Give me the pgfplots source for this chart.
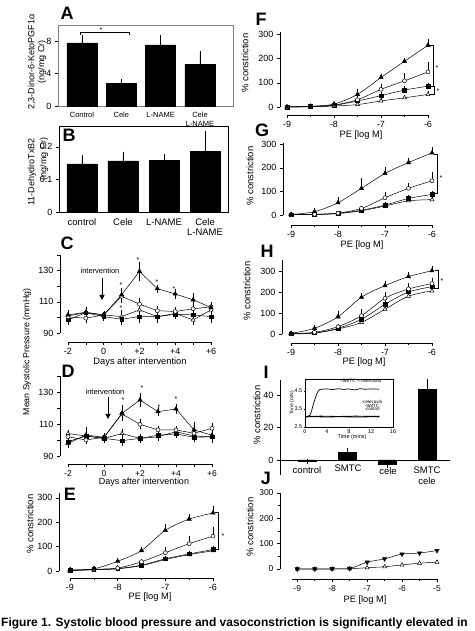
\documentclass[border=0pt]{standalone}
\usepackage{fontspec}
\setmainfont{Liberation Sans}
\usepackage{pgfplots}
\pgfplotsset{compat=1.18}
\usetikzlibrary{arrows.meta}
\pgfplotsset{
  base/.style={scale only axis, clip=false,
    tick label style={font=\fontsize{9}{10}\selectfont},
    /pgf/number format/assume math mode=true,
    axis line style={line width=0.5pt,-},
    tick style={black, line width=0.5pt},
    major tick length=3pt, minor tick length=2pt, tick align=outside},
  prism/.style 2 args={base, axis x line*=bottom, axis y line*=left,
    x axis line style={yshift=-#2}, xtick style={yshift=-#2}, xticklabel style={yshift=-#2},
    y axis line style={xshift=-#1}, ytick style={xshift=-#1}, yticklabel style={xshift=-#1}},
  s1/.style={black, line width=0.5pt, mark=triangle*, mark size=2.5pt, mark options={solid, fill=black}},
  s2/.style={black, line width=0.5pt, mark=*, mark size=2pt, mark options={solid, fill=white}},
  s3/.style={black, line width=0.5pt, mark=square*, mark size=1.8pt, mark options={solid, fill=black}},
  s4/.style={black, line width=0.5pt, mark=triangle*, mark size=2.3pt, mark options={solid, fill=white}},
  eb/.style={/pgfplots/error bars/y dir=#1, /pgfplots/error bars/y explicit,
    /pgfplots/error bars/error bar style={line width=0.5pt, black},
    /pgfplots/error bars/error mark options={black, line width=0.5pt, mark size=1.8pt}},
  dr/.style={xmin=-9, xmax=-6, xtick={-9,-8,-7,-6}, xticklabels={-9,-8,-7,-6},
    minor xtick={-8.5,-7.5,-6.5}, ytick={0,100,200,300}, yticklabels={0,100,200,300}},
}
\begin{document}
\begin{tikzpicture}
\useasboundingbox (0,0) rectangle (474pt,631pt);

% ---------- A ----------
\begin{axis}[base, at={(58pt,525pt)}, anchor=south west, width=175pt, height=81pt,
  xmin=-0.61, xmax=3.84, ymin=0, ymax=10, ytick={0,4,8}, yticklabels={0,4,8}, ytick pos=left,
  xtick={0,1,2,3}, xticklabels={Control,Cele,L-NAME,{Cele\\L-NAME}},
  xticklabel style={align=center, font=\fontsize{7.5}{8.5}\selectfont},
  xtick style={draw=none}, axis line style={gray}, ybar, bar width=30pt]
\addplot[fill=black, draw=black, eb=plus] coordinates {(0,7.8)+-(0,0.7) (1,2.8)+-(0,0.25) (2,7.55)+-(0,1.05) (3,5.1)+-(0,1.5)};
\end{axis}

% ---------- B ----------
\begin{axis}[base, at={(59pt,419pt)}, anchor=south west, width=169pt, height=86pt,
  xmin=-0.56, xmax=3.56, ymin=0, ymax=0.264, ytick={0,0.1,0.2}, yticklabels={0,0.1,0.2}, ytick pos=left,
  xtick={0,1,2,3}, xticklabels={control,Cele,L-NAME,{Cele\\L-NAME}},
  xticklabel style={align=center, font=\fontsize{9.5}{10.5}\selectfont},
  xtick style={draw=none}, ybar, bar width=30pt]
\addplot[fill=black, draw=black, eb=plus] coordinates {(0,0.148)+-(0,0.022) (1,0.157)+-(0,0.023) (2,0.158)+-(0,0.015) (3,0.186)+-(0,0.056)};
\end{axis}

% ---------- C ----------
\begin{axis}[prism={8pt}{9pt}, at={(68pt,298pt)}, anchor=south west, width=143pt, height=78pt,
  xmin=-2, xmax=6, ymin=90, ymax=140, xtick={-2,...,6}, xticklabels={-2,,0,,+2,,+4,,+6},
  ytick={90,100,...,140}, yticklabels={90,,110,,130,}]
\addplot[s4, eb=both] coordinates {(-2,101)+-(0,2) (-1,103)+-(0,2) (0,101.6)+-(0,1.5) (1,100.5)+-(0,3) (2,104.8)+-(0,3) (3,100.5)+-(0,3) (4,102.5)+-(0,2) (5,98.4)+-(0,2) (6,104.8)+-(0,2)};
\addplot[s3, eb=both] coordinates {(-2,98.4)+-(0,2) (-1,103)+-(0,2) (0,100.5)+-(0,1.5) (1,98.8)+-(0,2.5) (2,100.5)+-(0,3) (3,100.5)+-(0,2) (4,102)+-(0,2) (5,101.6)+-(0,3) (6,100.5)+-(0,3)};
\addplot[s2, eb=both] coordinates {(-2,100.3)+-(0,2) (-1,99.5)+-(0,2) (0,101.6)+-(0,1.5) (1,113.5)+-(0,3) (2,108.5)+-(0,2.5) (3,104.3)+-(0,2) (4,103.8)+-(0,2) (5,105.5)+-(0,2) (6,106.8)+-(0,2)};
\addplot[s1, eb=both] coordinates {(-2,101.6)+-(0,2) (-1,103.3)+-(0,2) (0,101.6)+-(0,1.5) (1,114.5)+-(0,3) (2,129.5)+-(0,5) (3,118.4)+-(0,1.5) (4,115)+-(0,2) (5,111.3)+-(0,3) (6,106.3)+-(0,2)};
\end{axis}

% ---------- D ----------
\begin{axis}[prism={8pt}{8pt}, at={(68pt,175pt)}, anchor=south west, width=144pt, height=80pt,
  xmin=-2, xmax=6, ymin=90, ymax=140, xtick={-2,...,6}, xticklabels={-2,,0,,+2,,+4,,+6},
  ytick={90,100,...,140}, yticklabels={90,,110,,130,},
  xticklabel style={font=\fontsize{8.5}{9}\selectfont}]
\addplot[s4, eb=both] coordinates {(-2,104)+-(0,1) (-1,102.5)+-(0,2) (0,101)+-(0,1.5) (1,104)+-(0,1.5) (2,101)+-(0,1.5) (3,102)+-(0,1.5) (4,105.2)+-(0,2) (5,102.5)+-(0,2) (6,102)+-(0,3)};
\addplot[s3, eb=both] coordinates {(-2,99)+-(0,2) (-1,102.5)+-(0,2) (0,101)+-(0,1.5) (1,99.6)+-(0,2) (2,101)+-(0,1.5) (3,103)+-(0,1.5) (4,103.8)+-(0,1.5) (5,101.7)+-(0,2) (6,102)+-(0,2)};
\addplot[s2, eb=both] coordinates {(-2,102)+-(0,1.5) (-1,100)+-(0,1.5) (0,101.7)+-(0,1.5) (1,116.3)+-(0,2) (2,109.8)+-(0,2) (3,106.3)+-(0,1.5) (4,106.3)+-(0,1.5) (5,104.2)+-(0,2) (6,107.3)+-(0,2)};
\addplot[s1, eb=both] coordinates {(-2,97.9)+-(0,2) (-1,103.1)+-(0,4) (0,101.7)+-(0,1.5) (1,116.7)+-(0,4) (2,125)+-(0,3) (3,117.7)+-(0,1.5) (4,119.4)+-(0,2) (5,106.3)+-(0,4) (6,103)+-(0,3)};
\end{axis}

% ---------- E ----------
\begin{axis}[prism={11pt}{7pt}, dr, at={(70pt,60pt)}, anchor=south west, width=143pt, height=78pt,
  ymin=0, ymax=320]
\addplot[s4, smooth, eb=plus] coordinates {(-9,2)+-(0,1) (-8.5,5)+-(0,1) (-8,9)+-(0,2) (-7.5,22)+-(0,3) (-7,47)+-(0,4) (-6.5,67)+-(0,5) (-6,83)+-(0,6)};
\addplot[s3, smooth, eb=plus] coordinates {(-9,2)+-(0,1) (-8.5,6)+-(0,2) (-8,10)+-(0,3) (-7.5,24)+-(0,4) (-7,50)+-(0,5) (-6.5,70)+-(0,6) (-6,88)+-(0,8)};
\addplot[s2, smooth, eb=plus] coordinates {(-9,3)+-(0,2) (-8.5,7)+-(0,3) (-8,12)+-(0,4) (-7.5,38)+-(0,5) (-7,75)+-(0,17) (-6.5,112)+-(0,25) (-6,143)+-(0,30)};
\addplot[s1, smooth, eb=plus] coordinates {(-9,4)+-(0,3) (-8.5,9)+-(0,4) (-8,40)+-(0,6) (-7.5,84)+-(0,8) (-7,167)+-(0,20) (-6.5,213)+-(0,15) (-6,238)+-(0,20)};
\end{axis}

% ---------- F ----------
\begin{axis}[prism={7pt}{8pt}, dr, at={(287pt,524pt)}, anchor=south west, width=141pt, height=75pt,
  ymin=0, ymax=310]
\addplot[s4, smooth, eb=plus] coordinates {(-9,0)+-(0,0) (-8.5,1)+-(0,1) (-8,4)+-(0,1) (-7.5,10)+-(0,3) (-7,25)+-(0,4) (-6.5,38)+-(0,5) (-6,52)+-(0,6)};
\addplot[s3, smooth, eb=plus] coordinates {(-9,0)+-(0,1) (-8.5,2)+-(0,1) (-8,7)+-(0,2) (-7.5,25)+-(0,8) (-7,47)+-(0,6) (-6.5,70)+-(0,10) (-6,86)+-(0,5)};
\addplot[s2, smooth, eb=plus] coordinates {(-9,0)+-(0,1) (-8.5,2)+-(0,1) (-8,8)+-(0,2) (-7.5,30)+-(0,6) (-7,73)+-(0,15) (-6.5,108)+-(0,25) (-6,145)+-(0,35)};
\addplot[s1, smooth, eb=plus] coordinates {(-9,0)+-(0,1) (-8.5,3)+-(0,2) (-8,12)+-(0,3) (-7.5,52)+-(0,15) (-7,122)+-(0,6) (-6.5,189)+-(0,6) (-6,255)+-(0,20)};
\end{axis}

% ---------- G ----------
\begin{axis}[prism={8pt}{10pt}, dr, at={(291pt,416pt)}, anchor=south west, width=141pt, height=72pt,
  ymin=0, ymax=305]
\addplot[s4, smooth, eb=plus] coordinates {(-9,1)+-(0,1) (-8.5,2)+-(0,1) (-8,6)+-(0,1) (-7.5,18)+-(0,2) (-7,38)+-(0,3) (-6.5,60)+-(0,4) (-6,65)+-(0,5)};
\addplot[s3, smooth, eb=plus] coordinates {(-9,1)+-(0,1) (-8.5,2)+-(0,1) (-8,7)+-(0,1) (-7.5,20)+-(0,3) (-7,42)+-(0,5) (-6.5,70)+-(0,6) (-6,87)+-(0,7)};
\addplot[s2, smooth, eb=plus] coordinates {(-9,1)+-(0,1) (-8.5,3)+-(0,1) (-8,8)+-(0,2) (-7.5,28)+-(0,4) (-7,73)+-(0,15) (-6.5,113)+-(0,15) (-6,145)+-(0,30)};
\addplot[s1, smooth, eb=plus] coordinates {(-9,2)+-(0,1) (-8.5,14)+-(0,10) (-8,52)+-(0,15) (-7.5,113)+-(0,38) (-7,176)+-(0,18) (-6.5,222)+-(0,12) (-6,263)+-(0,18)};
\end{axis}

% ---------- H ----------
\begin{axis}[prism={9pt}{9pt}, dr, at={(291pt,297pt)}, anchor=south west, width=141pt, height=74pt,
  ymin=0, ymax=352]
\addplot[s4, smooth, eb=plus] coordinates {(-9,0)+-(0,1) (-8.5,4)+-(0,3) (-8,24)+-(0,5) (-7.5,55)+-(0,8) (-7,118)+-(0,15) (-6.5,180)+-(0,25) (-6,205)+-(0,28)};
\addplot[s3, smooth, eb=plus] coordinates {(-9,1)+-(0,1) (-8.5,5)+-(0,3) (-8,27)+-(0,5) (-7.5,70)+-(0,10) (-7,141)+-(0,20) (-6.5,200)+-(0,20) (-6,225)+-(0,20)};
\addplot[s2, smooth, eb=plus] coordinates {(-9,2)+-(0,2) (-8.5,8)+-(0,3) (-8,35)+-(0,6) (-7.5,87)+-(0,25) (-7,170)+-(0,20) (-6.5,214)+-(0,18) (-6,240)+-(0,18)};
\addplot[s1, smooth, eb=plus] coordinates {(-9,3)+-(0,2) (-8.5,27)+-(0,8) (-8,82)+-(0,20) (-7.5,175)+-(0,10) (-7,230)+-(0,12) (-6.5,273)+-(0,12) (-6,301)+-(0,14)};
\end{axis}

% ---------- I ----------
\begin{axis}[base, at={(280pt,156.4pt)}, anchor=south west, width=170pt, height=94.25pt,
  xmin=-0.675, xmax=3.575, ymin=-9, ymax=49, axis y line*=left, axis x line*=middle,
  xtick=\empty, ytick={0,20,40}, yticklabels={0,20,40}, ybar, bar width=18pt]
\addplot[fill=black, draw=black, eb=both] coordinates {(0,-1)+-(0,0.4) (1,4.5)+-(0,1.8) (2,-2.5)+-(0,1.5) (3,43.5)+-(0,5)};
\end{axis}

% inset
\begin{axis}[base, at={(305pt,204pt)}, anchor=south west, width=88pt, height=48pt,
  xmin=0, xmax=16, ymin=2.5, ymax=5.17, xtick={0,4,8,12,16}, xticklabels={0,4,8,12,16},
  ytick={2.5,3.5,4.5}, yticklabels={2.5,3.5,4.5},
  tick label style={font=\fontsize{5.5}{6}\selectfont},
  major tick length=1.5pt, xtick pos=bottom, ytick pos=left,
  xticklabel style={inner sep=1pt}, yticklabel style={inner sep=1pt}]
\addplot[black, line width=1.1pt] coordinates {(0,3.07) (2,3.08) (4,3.06) (6,3.08) (8,3.07) (10,3.06) (12,3.08) (13.5,3.07)};
\addplot[black, line width=0.6pt] coordinates {(0,3.1) (3,3.11) (6,3.09) (9,3.11) (13.5,3.1)};
\addplot[black, line width=0.7pt] coordinates {(0,3.07) (0.5,3.08) (0.9,3.15) (1.2,3.4) (1.5,3.75) (1.8,4.05) (2.1,4.3) (2.4,4.5) (2.7,4.58) (3,4.6) (4,4.62) (5,4.58) (6,4.63) (7,4.59) (8,4.62) (9,4.56) (10,4.63) (11,4.6) (12,4.62) (13,4.61) (13.5,4.6)};
\end{axis}

% ---------- J ----------
\begin{axis}[prism={12pt}{10pt}, at={(292pt,62pt)}, anchor=south west, width=145pt, height=76pt,
  xmin=-9.15, xmax=-5, ymin=0, ymax=300, xtick={-9,-8,-7,-6,-5}, xticklabels={-9,-8,-7,-6,-5},
  minor xtick={-8.5,-7.5,-6.5,-5.5}, ytick={0,100,200,300}, yticklabels={0,100,200,300},
  minor ytick={50,150,250}, tick label style={font=\fontsize{8.5}{9.5}\selectfont}]
\addplot[s4, smooth] coordinates {(-9,0) (-8.5,0) (-8,0) (-7.5,1) (-7,5) (-6.5,9) (-6,16) (-5.5,23) (-5,27)};
\addplot[black, line width=0.5pt, smooth, mark=triangle*, mark size=2.5pt, mark options={solid, fill=black, rotate=180}] coordinates {(-9,0) (-8.5,0) (-8,1) (-7.5,2) (-7,27) (-6.5,40) (-6,59) (-5.5,63) (-5,73)};
\end{axis}

\begin{scope}[x=1pt, y=1pt]
% panel letters
\foreach \l/\px/\py in {A/67/618, B/69/496, C/67/388, D/68/260, E/70/137, F/261/612, G/262/501, H/267/380, I/266/259, J/266/153}
  \node[font=\bfseries\fontsize{18}{18}\selectfont, inner sep=0] at (\px,\py) {\l};
% y labels
\node[rotate=90, align=center, font=\fontsize{9}{10}\selectfont] at (37,569) {2,3-Dinor-6-KetoPGF1α\\(ng/mg Cr)};
\node[rotate=90, font=\fontsize{9}{10}\selectfont] at (32,459) {11-DehydroTxB2};
\node[rotate=90, font=\fontsize{9}{10}\selectfont] at (44,472) {(ng/mg Cr)};
\node[rotate=90, font=\fontsize{8.8}{10}\selectfont] at (27,279) {Mean Systolic Pressure (mmHg)};
\foreach \px/\py in {30/107, 245/568, 250/455, 247/340, 257/216, 250/104}
  \node[rotate=90, font=\fontsize{9.5}{10}\selectfont] at (\px,\py) {\% constriction};
% x labels
\node[font=\fontsize{9.3}{10}\selectfont] at (140,269) {Days after intervention};
\node[font=\fontsize{9}{10}\selectfont] at (144,149) {Days after intervention};
\foreach \px/\py in {150/34, 361/496, 362/386, 364/269, 365/31}
  \node[font=\fontsize{9.3}{10}\selectfont] at (\px,\py) {PE [log M]};
% intervention arrows
\node[font=\fontsize{7.5}{8}\selectfont] at (100,360) {intervention};
\draw[line width=1pt, -{Triangle[length=5pt,width=5pt]}] (102,353) -- (102,331);
\node[font=\fontsize{7.5}{8}\selectfont] at (105,239) {intervention};
\draw[line width=1pt, -{Triangle[length=5pt,width=5pt]}] (108,234) -- (108,212);
% asterisks
\foreach \px/\py in {121/346, 138/371, 157/349, 174/342, 121/323, 123/231, 142/243, 159/224, 176/232, 101/601, 223/95, 437/563, 438/540, 441/453, 442/350}
  \node[font=\fontsize{7}{7}\selectfont, inner sep=0] at (\px,\py) {*};
% brackets
\draw[line width=0.5pt] (80,596) -- (80,599) -- (129,599) -- (129,596);
\draw[line width=0.5pt] (215,119) -- (218,119) -- (218,82) -- (215,82);
\draw[line width=0.5pt] (430,586) -- (433,586) -- (433,545) -- (430,545);
\draw[line width=0.5pt] (430,537) -- (434,537) -- (434,545);
\draw[line width=0.5pt] (434,477) -- (437,477) -- (437,438) -- (434,438);
\draw[line width=0.5pt] (435,361) -- (438,361) -- (438,343) -- (435,343);
% panel I labels
\node[font=\fontsize{9.5}{10}\selectfont] at (307,161) {control};
\node[font=\fontsize{9.5}{10}\selectfont] at (348,163) {SMTC};
\node[font=\fontsize{9.5}{10}\selectfont] at (388,160) {cele};
\node[font=\fontsize{9.5}{11}\selectfont, align=center, anchor=north] at (427,168) {SMTC\\cele};
% inset labels
\node[rotate=90, font=\fontsize{5}{5}\selectfont] at (292,228) {Tone (mN)};
\node[font=\fontsize{5.5}{6}\selectfont] at (352,194) {Time (mins)};
\node[font=\fontsize{4.8}{5}\selectfont] at (361,250) {-SMTC + celecoxib};
\node[font=\fontsize{4.5}{5}\selectfont] at (372,229.5) {-celecoxib};
\node[font=\fontsize{4.5}{5}\selectfont] at (372,225.5) {-SMTC};
\node[font=\fontsize{4.5}{5}\selectfont] at (372,222) {-control};
% caption
\node[anchor=base west, font=\bfseries\fontsize{12}{14}\selectfont, inner sep=0] at (1,5) {Figure 1. Systolic blood pressure and vasoconstriction is significantly elevated in};
\end{scope}
\end{tikzpicture}
\end{document}
